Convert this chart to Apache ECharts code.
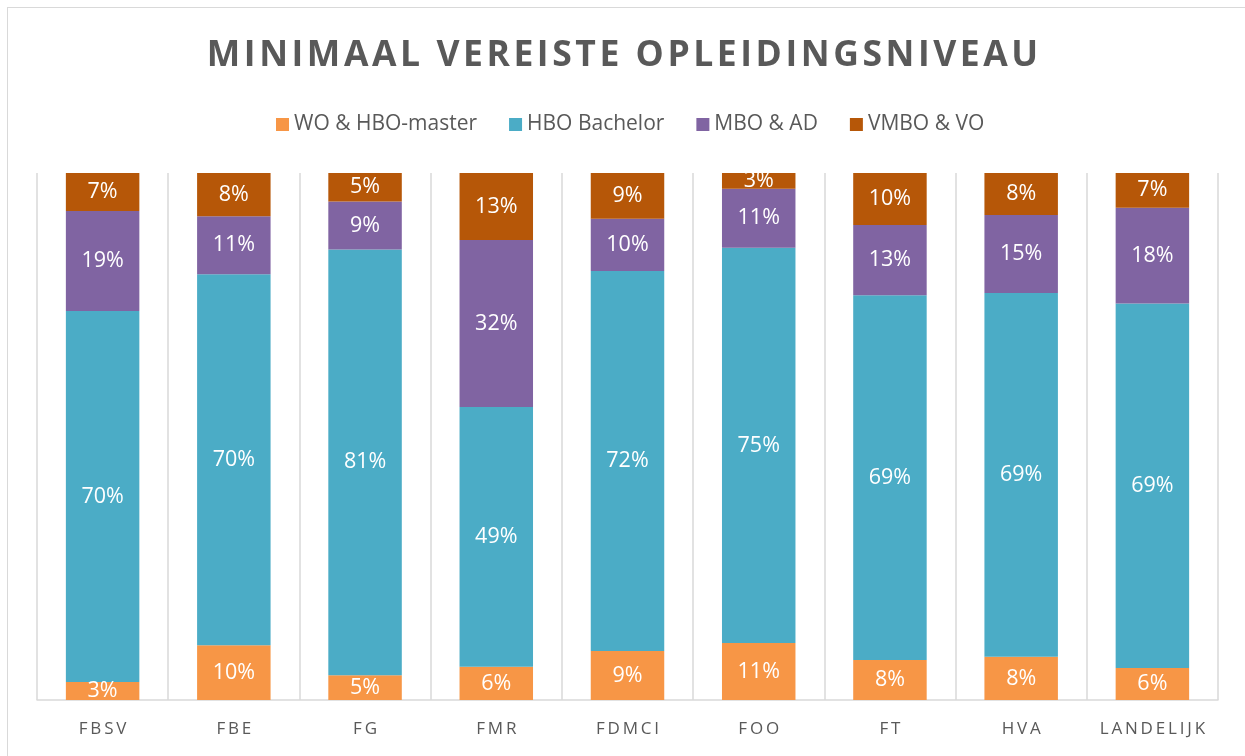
<!DOCTYPE html>
<html>
<head>
<meta charset="utf-8">
<script src="https://cdn.jsdelivr.net/npm/echarts@6/dist/echarts.min.js"></script>
<style>
    html, body { margin: 0; padding: 0; background: #fff; }
    #frame { position: absolute; left: 7px; top: 7px; width: 1250px; height: 760px; border: 1px solid #d9d9d9; box-sizing: border-box; }
    #chart { position: absolute; left: 0; top: 0; width: 1245px; height: 756px; }
</style>
</head>
<body>
<div id="frame"></div>
<div id="chart"></div>
<script>
// ------------------------ data -----------------------------------
var categories = ['FBSV', 'FBE', 'FG', 'FMR', 'FDMCI', 'FOO', 'FT', 'HVA', 'LANDELIJK']
var seriesNames = ['WO & HBO-master', 'HBO Bachelor', 'MBO & AD', 'VMBO & VO']
var woHboMaster = [3.4, 10.4, 4.7, 6.3, 9.3, 10.8, 7.6, 8.2, 6.1]
var hboBachelor = [70.4, 70.4, 80.8, 49.3, 72.1, 75.0, 69.3, 69.1, 69.2]
var mboAd = [19.0, 11.0, 9.1, 31.7, 9.9, 11.2, 13.3, 14.8, 18.2]
var vmboVo = [7.2, 8.2, 5.4, 12.7, 8.7, 3.0, 9.9, 8.0, 6.6]
var colors = ['#F79646', '#4BACC6', '#8064A2', '#B65708']

var chart = echarts.init(document.getElementById('chart'))

// share of each category (bars are 100% stacked)
var raw = [woHboMaster, hboBachelor, mboAd, vmboVo]
var totals = categories.map(function (c, i) {
    return raw.reduce(function (s, arr) { return s + arr[i] }, 0)
})

function spaced(str, sp) {
    return str.split('').join(sp)
}

var series = raw.map(function (arr, k) {
    return {
        name: seriesNames[k],
        type: 'bar',
        stack: 'total',
        barCategoryGap: '44%',
        itemStyle: { color: colors[k] },
        label: {
            show: true,
            position: 'inside',
            color: '#fff',
            fontSize: 21.5,
            fontFamily: 'Open Sans',
            formatter: function (p) {
                return Math.round(arr[p.dataIndex]) + '%'
            }
        },
        data: arr.map(function (v, i) { return v / totals[i] * 100 })
    }
})

var option = {
    animation: false,
    title: {
        text: spaced('MINIMAAL VEREISTE OPLEIDINGSNIVEAU', '\u200A'),
        left: 'center',
        top: 33,
        textStyle: {
            color: '#595959',
            fontSize: 35.5,
            fontWeight: 'bold',
            fontFamily: 'Open Sans'
        }
    },
    legend: {
        top: 109,
        left: 271,
        itemWidth: 13,
        itemHeight: 13,
        itemGap: 32,
        icon: 'rect',
        textStyle: { color: '#595959', fontSize: 21, fontFamily: 'Open Sans' },
        data: seriesNames
    },
    grid: { left: 37, right: 27, top: 173, bottom: 56 },
    xAxis: {
        type: 'category',
        data: categories,
        axisLine: { lineStyle: { color: '#d9d9d9', width: 1.5 } },
        axisTick: { show: false },
        splitLine: { show: true, interval: 0, lineStyle: { color: '#d9d9d9', width: 1.5 } },
        axisLabel: {
            interval: 0,
            color: '#595959',
            fontSize: 17,
            fontFamily: 'Open Sans',
            margin: 21,
            formatter: function (v) { return spaced(v, '\u2009') }
        }
    },
    yAxis: {
        type: 'value',
        min: 0,
        max: 100,
        show: false
    },
    series: series
}

chart.setOption(option)
</script>
</body>
</html>
